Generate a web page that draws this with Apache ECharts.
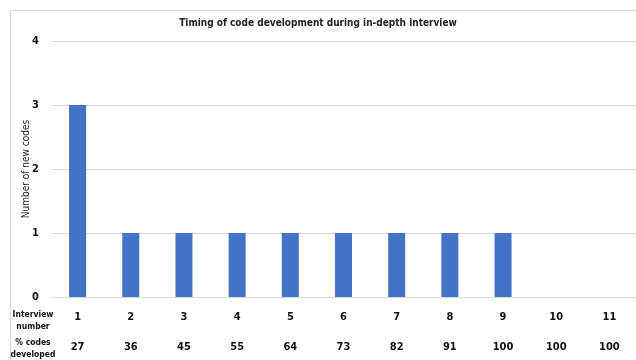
<!DOCTYPE html>
<html>
<head>
<meta charset="utf-8">
<script src="https://cdn.jsdelivr.net/npm/echarts@6/dist/echarts.min.js"></script>
<style>
  html, body { margin: 0; padding: 0; background: #fff; }
  #main { width: 636px; height: 360px; }
</style>
</head>
<body>
<div id="main"></div>
<script>
// interview numbers, number of new codes, cumulative % developed
var interviews = ['1', '2', '3', '4', '5', '6', '7', '8', '9', '10', '11'];
var newCodes = [3, 1, 1, 1, 1, 1, 1, 1, 1, 0, 0];
var pctDeveloped = ['27', '36', '45', '55', '64', '73', '82', '91', '100', '100', '100'];
var yTicks = [0, 1, 2, 3, 4];

var font = '"DejaVu Sans Condensed", "Liberation Sans", sans-serif';
var chart = echarts.init(document.getElementById('main'));

var option = {
  animation: false,
  backgroundColor: '#fff',
  title: {
    text: 'Timing of code development during in-depth interview',
    left: 'center',
    top: 13,
    textStyle: { fontFamily: font, fontSize: 10, fontWeight: 'bold', color: '#222' }
  },
  grid: { left: 51, top: 41, width: 589, height: 256 },
  xAxis: [{
    type: 'category',
    data: interviews,
    axisLine: { lineStyle: { color: '#d9d9d9' } },
    axisTick: { show: false },
    axisLabel: { margin: 15, fontFamily: font, fontSize: 11, fontWeight: 'bold', color: '#111' }
  }, {
    type: 'category',
    position: 'bottom',
    offset: 31,
    data: pctDeveloped,
    axisLine: { show: false },
    axisTick: { show: false },
    axisLabel: { margin: 14, fontFamily: font, fontSize: 11, fontWeight: 'bold', color: '#111' }
  }],
  yAxis: {
    type: 'value',
    min: yTicks[0],
    max: yTicks[yTicks.length - 1],
    interval: 1,
    name: 'Number of new codes',
    nameLocation: 'middle',
    nameGap: 20,
    nameMoveOverlap: false,
    nameTextStyle: { fontFamily: font, fontSize: 10, color: '#222' },
    axisLine: { show: false },
    axisTick: { show: false },
    axisLabel: { margin: 12, fontFamily: font, fontSize: 11, fontWeight: 'bold', color: '#111' },
    splitLine: { lineStyle: { color: '#d9d9d9' } }
  },
  series: [{
    type: 'bar',
    data: newCodes,
    barWidth: 17,
    itemStyle: { color: '#4472C4' }
  }],
  graphic: [
    { type: 'line', shape: { x1: 10.5, y1: 10.5, x2: 636, y2: 10.5 }, style: { stroke: '#d9d9d9', lineWidth: 1 } },
    { type: 'line', shape: { x1: 10.5, y1: 10.5, x2: 10.5, y2: 360 }, style: { stroke: '#d9d9d9', lineWidth: 1 } },
    { type: 'text', x: 33, y: 309, style: { text: 'Interview\nnumber', align: 'center', fontFamily: font, fontSize: 8.5, fontWeight: 'bold', fill: '#111', lineHeight: 12 } },
    { type: 'text', x: 33, y: 337, style: { text: '% codes\ndeveloped', align: 'center', fontFamily: font, fontSize: 8.5, fontWeight: 'bold', fill: '#111', lineHeight: 12 } }
  ]
};
chart.setOption(option);
</script>
</body>
</html>
